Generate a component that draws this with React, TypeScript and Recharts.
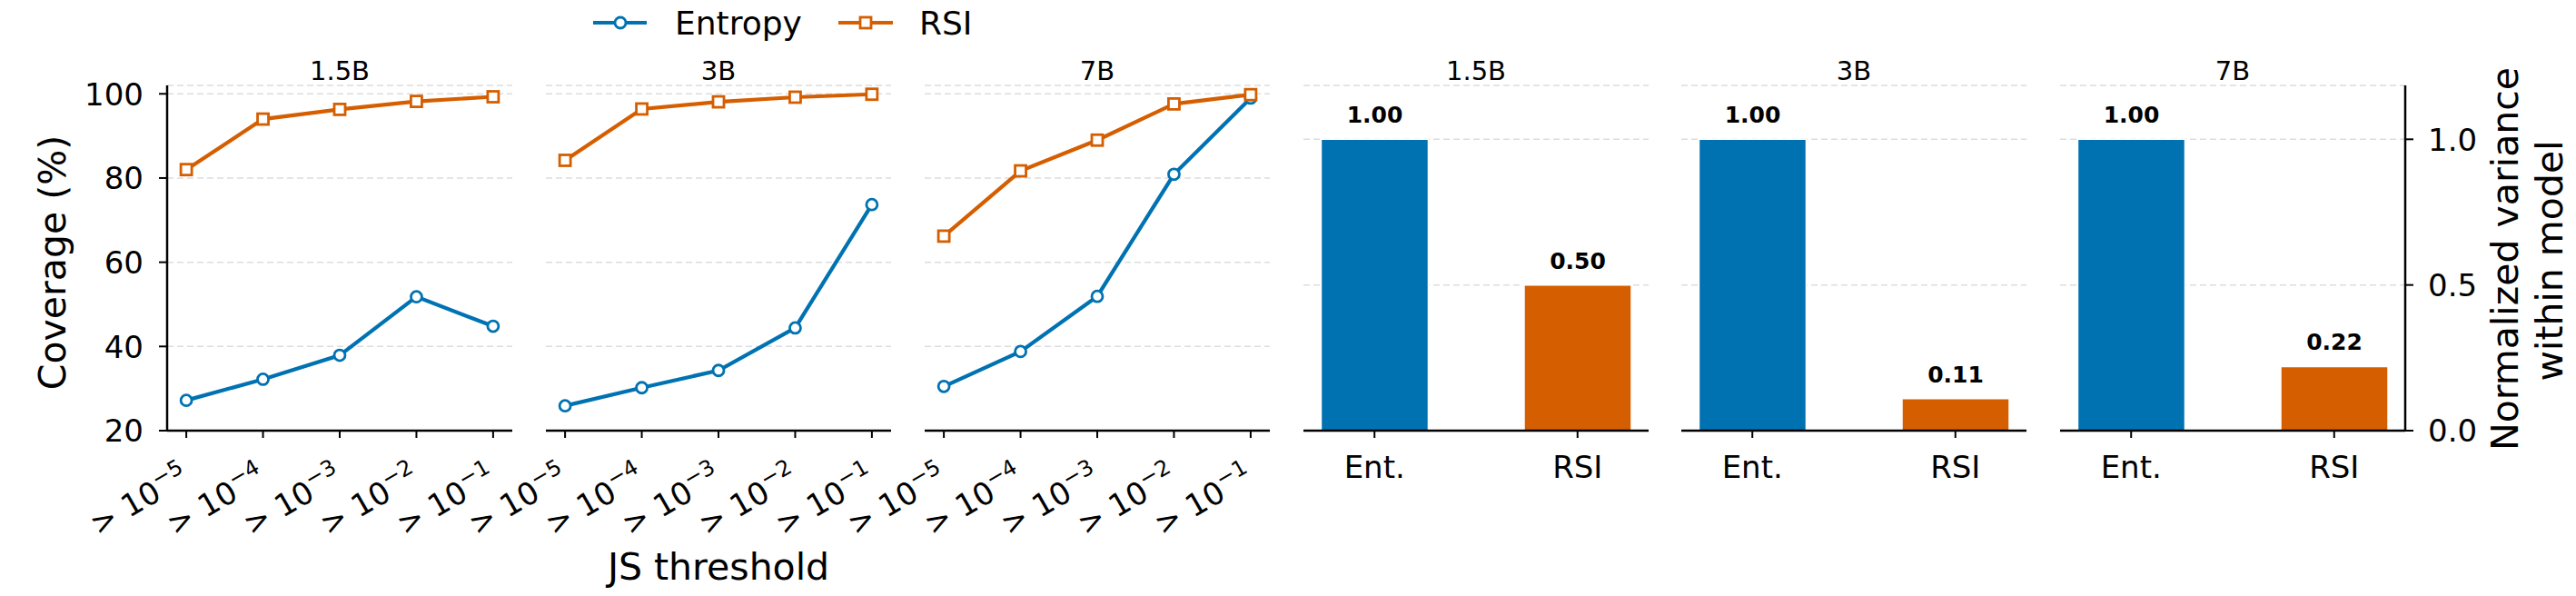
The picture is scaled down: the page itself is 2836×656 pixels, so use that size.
import React from 'react'
import {
    LineChart,
    Line,
    BarChart,
    Bar,
    XAxis,
    YAxis,
    CartesianGrid,
    Cell,
    LabelList,
} from 'recharts'

// colours (matplotlib colorblind palette)
const BLUE = '#0072B2'
const ORANGE = '#D55E00'
const FONT = '"DejaVu Sans", sans-serif'

// left block: coverage vs JS threshold
const thresholdIndex = [0, 1, 2, 3, 4]
const thresholdExponents = ['\u22125', '\u22124', '\u22123', '\u22122', '\u22121']
const modelNames = ['1.5B', '3B', '7B']
const entropyCoverage15 = [27.2, 32.2, 37.9, 51.8, 44.8]
const rsiCoverage15 = [82.0, 94.0, 96.3, 98.2, 99.3]
const entropyCoverage3 = [25.9, 30.2, 34.3, 44.4, 73.7]
const rsiCoverage3 = [84.2, 96.4, 98.1, 99.2, 99.9]
const entropyCoverage7 = [30.5, 38.8, 51.9, 80.9, 99.0]
const rsiCoverage7 = [66.2, 81.7, 89.0, 97.6, 99.8]
const coverageTicks = [20, 40, 60, 80, 100]

// right block: normalized variance within model
const methodIndex = [0, 1]
const methodLabels = ['Ent.', 'RSI']
const methodColors = [BLUE, ORANGE]
const normVar15 = [1.0, 0.5]
const normVar3 = [1.0, 0.11]
const normVar7 = [1.0, 0.22]
const varianceTicks = [0, 0.5, 1.0]

const W = 2836
const H = 656
const PLOT_TOP = 94
const PLOT_BOTTOM = 474
const PLOT_W = 380
const X_AXIS_H = 60
const lineLefts = [184, 601, 1018]
const barLefts = [1435, 1851, 2268]

const ThresholdTick = ({ x, y, payload }: any) => (
    <text
        x={0}
        y={0}
        transform={`translate(${x + 5},${y + 49}) rotate(-30)`}
        textAnchor="end"
        fontSize={34}
        fontFamily={FONT}
        fill="#000"
    >
        {'> 10'}
        <tspan dy={-14} fontSize={24}>{thresholdExponents[payload.value]}</tspan>
    </text>
)

const MethodTick = ({ x, y, payload }: any) => (
    <text x={x} y={y + 44} textAnchor="middle" fontSize={34} fontFamily={FONT} fill="#000">
        {methodLabels[payload.value]}
    </text>
)

const YTick = ({ x, y, payload, anchor, fmt }: any) => (
    <text x={x} y={y} dy="0.36em" textAnchor={anchor} fontSize={34} fontFamily={FONT} fill="#000">
        {fmt(payload.value)}
    </text>
)

const BarValueLabel = (props: any) => {
    const { x, y, width, value } = props
    return (
        <text x={x + width / 2} y={y - 18} textAnchor="middle" fontSize={25} fontWeight="bold" fontFamily={FONT} fill="#000">
            {Number(value).toFixed(2)}
        </text>
    )
}

const SquareDot = (props: any) => {
    const { cx, cy, index } = props
    return <rect key={`sq-${index}`} x={cx - 6} y={cy - 6} width={12} height={12} fill="#fff" stroke={ORANGE} strokeWidth={2.8} />
}

function CoveragePanel({ left, entropy, rsi, showY }: { left: number; entropy: number[]; rsi: number[]; showY: boolean }) {
    const rows = thresholdIndex.map(i => ({ i, entropy: entropy[i], rsi: rsi[i] }))
    return (
        <div style={{ position: 'absolute', left: left - 100, top: 0 }}>
            <LineChart
                width={PLOT_W + 200}
                height={H}
                data={rows}
                margin={{ top: PLOT_TOP, right: 100, bottom: H - PLOT_BOTTOM - X_AXIS_H, left: showY ? 20 : 100 }}
            >
                <CartesianGrid vertical={false} strokeDasharray="7 4" stroke="#dddddd" strokeWidth={1.5} />
                <XAxis
                    type="number"
                    dataKey="i"
                    domain={[-0.25, 4.25]}
                    ticks={thresholdIndex}
                    height={X_AXIS_H}
                    tick={<ThresholdTick />}
                    tickSize={8}
                    tickMargin={0}
                    axisLine={{ stroke: '#000', strokeWidth: 2.5 }}
                    tickLine={{ stroke: '#000', strokeWidth: 2 }}
                    interval={0}
                />
                <YAxis
                    type="number"
                    domain={[20, 102]}
                    ticks={coverageTicks}
                    allowDataOverflow
                    hide={!showY}
                    width={80}
                    tickSize={9}
                    tickMargin={17}
                    tick={<YTick anchor="end" fmt={(v: number) => String(v)} />}
                    axisLine={{ stroke: '#000', strokeWidth: 2.5 }}
                    tickLine={{ stroke: '#000', strokeWidth: 2 }}
                    interval={0}
                />
                <Line
                    type="linear"
                    dataKey="entropy"
                    stroke={BLUE}
                    strokeWidth={4.2}
                    dot={{ r: 6, fill: '#fff', stroke: BLUE, strokeWidth: 2.8 }}
                    isAnimationActive={false}
                />
                <Line
                    type="linear"
                    dataKey="rsi"
                    stroke={ORANGE}
                    strokeWidth={4.2}
                    dot={<SquareDot />}
                    isAnimationActive={false}
                />
            </LineChart>
        </div>
    )
}

function VariancePanel({ left, values, showY }: { left: number; values: number[]; showY: boolean }) {
    const rows = methodIndex.map(i => ({ i, v: values[i] }))
    return (
        <div style={{ position: 'absolute', left: left - 100, top: 0 }}>
            <BarChart
                width={PLOT_W + 200}
                height={H}
                data={rows}
                margin={{ top: PLOT_TOP, right: showY ? 20 : 100, bottom: H - PLOT_BOTTOM - X_AXIS_H, left: 100 }}
            >
                <CartesianGrid vertical={false} strokeDasharray="7 4" stroke="#dddddd" strokeWidth={1.5} />
                <XAxis
                    type="number"
                    dataKey="i"
                    domain={[-0.35, 1.35]}
                    ticks={methodIndex}
                    height={X_AXIS_H}
                    tick={<MethodTick />}
                    tickSize={8}
                    tickMargin={0}
                    axisLine={{ stroke: '#000', strokeWidth: 2.5 }}
                    tickLine={{ stroke: '#000', strokeWidth: 2 }}
                    interval={0}
                />
                <YAxis
                    type="number"
                    orientation="right"
                    domain={[0, 1.185]}
                    ticks={varianceTicks}
                    allowDataOverflow
                    hide={!showY}
                    width={80}
                    tickSize={9}
                    tickMargin={16}
                    tick={<YTick anchor="start" fmt={(v: number) => v.toFixed(1)} />}
                    axisLine={{ stroke: '#000', strokeWidth: 2.5 }}
                    tickLine={{ stroke: '#000', strokeWidth: 2 }}
                    interval={0}
                />
                <Bar dataKey="v" barSize={118} stroke="#fff" strokeWidth={1.5} isAnimationActive={false}>
                    {rows.map((r, idx) => (
                        <Cell key={`c-${idx}`} fill={methodColors[r.i]} />
                    ))}
                    <LabelList dataKey="v" content={<BarValueLabel />} />
                </Bar>
            </BarChart>
        </div>
    )
}

export default function App() {
    const coverage = [
        { ent: entropyCoverage15, rsi: rsiCoverage15 },
        { ent: entropyCoverage3, rsi: rsiCoverage3 },
        { ent: entropyCoverage7, rsi: rsiCoverage7 },
    ]
    const variance = [normVar15, normVar3, normVar7]

    return (
        <div style={{ position: 'relative', width: W, height: H, background: '#fff', fontFamily: FONT }}>
            <style>{'body{margin:0;background:#fff}'}</style>
            {coverage.map((c, k) => (
                <CoveragePanel key={`cov-${k}`} left={lineLefts[k]} entropy={c.ent} rsi={c.rsi} showY={k === 0} />
            ))}
            {variance.map((v, k) => (
                <VariancePanel key={`var-${k}`} left={barLefts[k]} values={v} showY={k === 2} />
            ))}
            <svg width={W} height={H} style={{ position: 'absolute', left: 0, top: 0, pointerEvents: 'none' }}>
                {/* panel titles */}
                {modelNames.map((m, k) => (
                    <text key={`lt-${k}`} x={lineLefts[k] + PLOT_W / 2} y={88} textAnchor="middle" fontSize={29} fontFamily={FONT}>{m}</text>
                ))}
                {modelNames.map((m, k) => (
                    <text key={`bt-${k}`} x={barLefts[k] + PLOT_W / 2} y={88} textAnchor="middle" fontSize={29} fontFamily={FONT}>{m}</text>
                ))}
                {/* axis labels */}
                <text transform="translate(72,289) rotate(-90)" textAnchor="middle" fontSize={41} fontFamily={FONT}>Coverage (%)</text>
                <text x={791} y={638} textAnchor="middle" fontSize={41} fontFamily={FONT}>JS threshold</text>
                <text transform="translate(2772,285) rotate(-90)" textAnchor="middle" fontSize={41} fontFamily={FONT}>Normalized variance</text>
                <text transform="translate(2821,287) rotate(-90)" textAnchor="middle" fontSize={41} fontFamily={FONT}>within model</text>
                {/* legend */}
                <line x1={653} x2={712} y1={25} y2={25} stroke={BLUE} strokeWidth={4.2} />
                <circle cx={683} cy={25} r={6} fill="#fff" stroke={BLUE} strokeWidth={2.8} />
                <text x={743} y={38} fontSize={36} fontFamily={FONT}>Entropy</text>
                <line x1={923} x2={983} y1={25} y2={25} stroke={ORANGE} strokeWidth={4.2} />
                <rect x={947} y={19} width={12} height={12} fill="#fff" stroke={ORANGE} strokeWidth={2.8} />
                <text x={1012} y={38} fontSize={36} fontFamily={FONT}>RSI</text>
            </svg>
        </div>
    )
}
